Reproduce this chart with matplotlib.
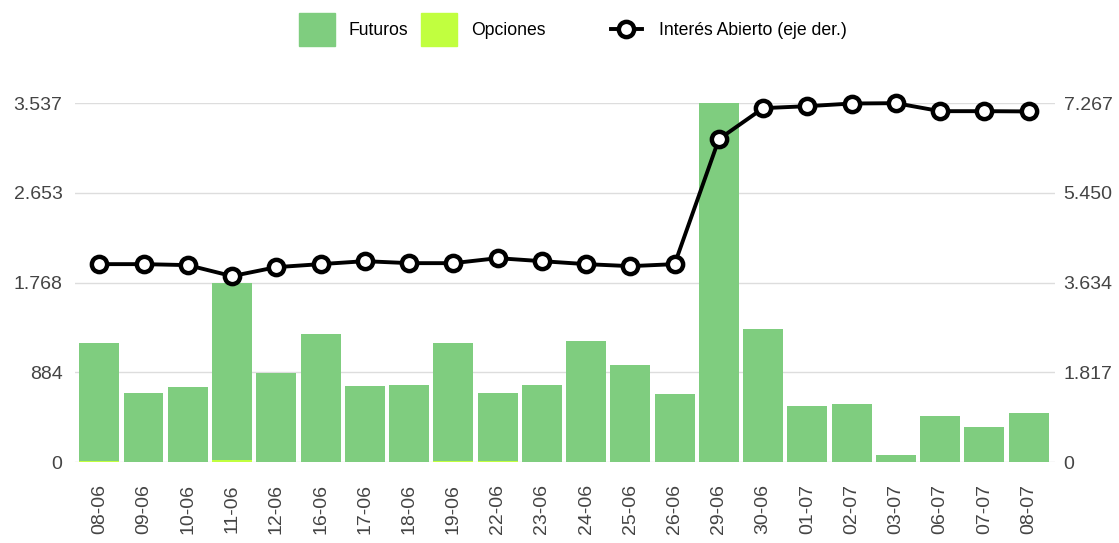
import matplotlib.pyplot as plt
from matplotlib.patches import Patch
from matplotlib.lines import Line2D
import numpy as np

plt.rcParams['font.family'] = ['Liberation Sans', 'DejaVu Sans']

# datos
fechas = ['08-06', '09-06', '10-06', '11-06', '12-06', '16-06', '17-06', '18-06',
          '19-06', '22-06', '23-06', '24-06', '25-06', '26-06', '29-06', '30-06',
          '01-07', '02-07', '03-07', '06-07', '07-07', '08-07']
futuros = [1164, 680, 739, 1743, 872, 1261, 749, 758,
           1166, 665, 758, 1192, 955, 670, 3537, 1310,
           552, 571, 69, 453, 345, 483]
opciones = [8, 0, 0, 20, 5, 0, 0, 0,
            6, 15, 0, 0, 0, 0, 0, 0,
            0, 0, 0, 0, 0, 0]
interes = [4008, 4008, 3988, 3765, 3947, 4008, 4068, 4028,
           4028, 4129, 4068, 4008, 3967, 4008, 6538, 7166,
           7206, 7260, 7267, 7105, 7105, 7100]

izq_max = 3537
der_max = 7267

verde = '#7FCD7F'
lima = '#C1FF3F'
gris_txt = '#444444'

fig = plt.figure(figsize=(11.19, 5.43), dpi=100)
ax = fig.add_axes([0.067, 0.149, 0.876, 0.661])
ax2 = ax.twinx()

x = np.arange(len(fechas))
ax.bar(x, opciones, width=0.9, color=lima, zorder=2)
ax.bar(x, futuros, width=0.9, color=verde, bottom=opciones, zorder=2)

ax2.plot(x, interes, color='black', lw=2.8, marker='o', markersize=11,
         markerfacecolor='white', markeredgecolor='black', markeredgewidth=3.2,
         zorder=3, clip_on=False)

# ejes
def fmt(v):
    return f'{int(round(v)):,}'.replace(',', '.')

yt_izq = [izq_max * i / 4 for i in range(5)]
yt_der = [der_max * i / 4 for i in range(5)]
ax.set_ylim(0, izq_max)
ax2.set_ylim(0, der_max)
ax.set_yticks(yt_izq)
ax.set_yticklabels([fmt(v) for v in yt_izq])
ax2.set_yticks(yt_der)
ax2.set_yticklabels([fmt(v) for v in yt_der])
ax.set_xlim(-0.55, 21.6)
ax.set_xticks(x)
ax.set_xticklabels(fechas, rotation=90)

ax.grid(axis='y', color='#dddddd', lw=1, zorder=0)
ax.set_axisbelow(True)
for a in (ax, ax2):
    for s in a.spines.values():
        s.set_visible(False)
ax.tick_params(axis='x', length=0, pad=16, labelsize=14, colors=gris_txt)
ax.tick_params(axis='y', length=0, pad=9, labelsize=14, colors=gris_txt)
ax2.tick_params(axis='y', length=0, pad=6, labelsize=14, colors=gris_txt)
ax.set_zorder(ax2.get_zorder() - 1)
ax2.patch.set_visible(False)

# leyendas
h1 = [Patch(color=verde, label='Futuros'), Patch(color=lima, label='Opciones')]
fig.legend(handles=h1, loc='center left', bbox_to_anchor=(299 / 1119, 0.945), ncol=2,
           frameon=False, fontsize=12.7, handlelength=2.05, handleheight=2.5,
           handletextpad=0.75, columnspacing=0.75, borderpad=0, borderaxespad=0)
h2 = [Line2D([], [], color='black', lw=2.8, marker='o', markersize=11,
             markerfacecolor='white', markeredgewidth=3.2, label='Interés Abierto (eje der.)')]
fig.legend(handles=h2, loc='center left', bbox_to_anchor=(611 / 1119, 0.943),
           frameon=False, fontsize=12.7, handlelength=1.75, handletextpad=0.95,
           borderpad=0, borderaxespad=0)

plt.savefig('out.png', dpi=100)
